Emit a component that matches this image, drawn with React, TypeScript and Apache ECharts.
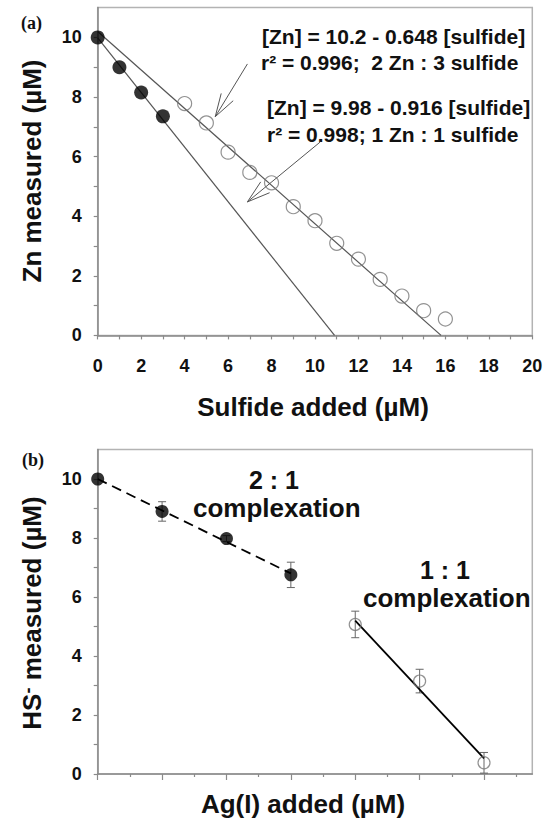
import React, { useEffect, useRef } from "react";
import * as echarts from "echarts";

// ---------- Panel (a) data ----------
const znFilled: number[][] = [[0, 10], [1, 9.0], [2, 8.15], [3, 7.35]];
const znOpen: number[][] = [
  [4, 7.78], [5, 7.13], [6, 6.15], [7, 5.47], [8, 5.12], [9, 4.32], [10, 3.85],
  [11, 3.09], [12, 2.56], [13, 1.88], [14, 1.32], [15, 0.83], [16, 0.55],
];
const fitLine23: number[][] = [[0, 10.2], [15.8, 0]];
const fitLine11: number[][] = [[0, 9.98], [10.9, 0]];
// arrows: [fromX, fromY, toX, toY]
const arrowsA: number[][] = [[6.89, 9.11, 5.41, 7.34], [10.24, 6.49, 6.89, 4.48]];
const xTicksA = [0, 2, 4, 6, 8, 10, 12, 14, 16, 18, 20];
const xMinorA = [0, 1, 2, 3, 4, 5, 6, 7, 8, 9, 10, 11, 12, 13, 14, 15, 16, 17, 18, 19, 20];
const yTicks = [0, 2, 4, 6, 8, 10];
const yMinor = [0, 1, 2, 3, 4, 5, 6, 7, 8, 9, 10];

// ---------- Panel (b) data ----------
const hsFilled: number[][] = [[0, 10], [1, 8.9], [2, 7.98], [3, 6.75]];
const hsFilledErr = [0, 0.33, 0.1, 0.43];
const hsOpen: number[][] = [[4, 5.07], [5, 3.15], [6, 0.38]];
const hsOpenErr = [0.45, 0.4, 0.35];
const dashFit: number[][] = [[0, 10], [3, 6.8]];
const solidFit: number[][] = [[4, 5.2], [6, 0.53]];
const xMajorB = [0, 1, 2, 3, 4, 5, 6];
const xMinorB = [0.5, 1.5, 2.5, 3.5, 4.5, 5.5, 6.5];

const FONT = '"Liberation Sans", Arial, Helvetica, sans-serif';
const AXIS_COLOR = "#8a8a8a";

function errRender(params: any, api: any) {
  const x = api.value(0);
  const y = api.value(1);
  const e = api.value(2);
  if (!e) return null;
  const top = api.coord([x, y + e]);
  const bot = api.coord([x, y - e]);
  const w = 4;
  return {
    type: "group",
    children: [
      { type: "line", shape: { x1: top[0], y1: top[1], x2: bot[0], y2: bot[1] }, style: { stroke: "#666", lineWidth: 1 } },
      { type: "line", shape: { x1: top[0] - w, y1: top[1], x2: top[0] + w, y2: top[1] }, style: { stroke: "#666", lineWidth: 1 } },
      { type: "line", shape: { x1: bot[0] - w, y1: bot[1], x2: bot[0] + w, y2: bot[1] }, style: { stroke: "#666", lineWidth: 1 } },
    ],
  };
}

function arrowRender(params: any, api: any) {
  const p0 = api.coord([api.value(0), api.value(1)]);
  const p1 = api.coord([api.value(2), api.value(3)]);
  const ang = Math.atan2(p0[1] - p1[1], p0[0] - p1[0]);
  const L = 24;
  const a = (17 * Math.PI) / 180;
  const h1 = [p1[0] + L * Math.cos(ang + a), p1[1] + L * Math.sin(ang + a)];
  const h2 = [p1[0] + L * Math.cos(ang - a), p1[1] + L * Math.sin(ang - a)];
  return {
    type: "group",
    children: [
      { type: "line", shape: { x1: p0[0], y1: p0[1], x2: p1[0], y2: p1[1] }, style: { stroke: "#555", lineWidth: 1 } },
      { type: "polyline", shape: { points: [h1, p1, h2] }, style: { stroke: "#555", fill: null, lineWidth: 1 } },
    ],
  };
}

function txt(text: string, x: number, y: number, size: number, align = "left", extra: any = {}) {
  return {
    type: "text",
    x,
    y,
    ...extra,
    style: {
      text,
      fill: "#111",
      font: `bold ${size}px ${FONT}`,
      align,
      verticalAlign: "middle",
      ...(extra.style || {}),
    },
  };
}

export default function App() {
  const ref = useRef<HTMLDivElement>(null);
  useEffect(() => {
    if (!ref.current) return;
    const chart = echarts.init(ref.current, null, { renderer: "svg" });
    const labelStyle = { color: "#111", fontSize: 18, fontWeight: "bold", fontFamily: FONT };
    const axisLine = { show: true, lineStyle: { color: AXIS_COLOR, width: 1.5 } };
    chart.setOption({
      animation: false,
      backgroundColor: "#fff",
      grid: [
        { left: 97.7, top: 7.6, width: 434.6, height: 327.8, show: true, borderColor: "#b3b3b3", borderWidth: 1.5, backgroundColor: "transparent" },
        { left: 97.7, top: 449.5, width: 434.6, height: 324.5, show: true, borderColor: "#b3b3b3", borderWidth: 1.5, backgroundColor: "transparent" },
      ],
      xAxis: [
        {
          gridIndex: 0, type: "value", min: 0, max: 20, interval: 2,
          axisLine,
          axisTick: { show: true, length: 4, customValues: xMinorA, lineStyle: { color: AXIS_COLOR, width: 1.2 } },
          axisLabel: { ...labelStyle, margin: 22, customValues: xTicksA },
          splitLine: { show: false },
        },
        {
          gridIndex: 1, type: "value", min: 0, max: 6.75, interval: 1,
          axisLine,
          axisTick: { show: true, length: 6, customValues: xMajorB, lineStyle: { color: AXIS_COLOR, width: 1.2 } },
          axisLabel: { show: false },
          splitLine: { show: false },
        },
        {
          gridIndex: 1, type: "value", min: 0, max: 6.75, position: "bottom", offset: 0,
          axisLine: { show: false },
          axisTick: { show: true, length: 3, customValues: xMinorB, lineStyle: { color: AXIS_COLOR, width: 1.2 } },
          axisLabel: { show: false },
          splitLine: { show: false },
        },
      ],
      yAxis: [
        {
          gridIndex: 0, type: "value", min: 0, max: 11, interval: 1,
          axisLine,
          axisTick: { show: true, length: 4, customValues: yMinor, lineStyle: { color: AXIS_COLOR, width: 1.2 } },
          axisLabel: { ...labelStyle, margin: 16, customValues: yTicks },
          splitLine: { show: false },
        },
        {
          gridIndex: 1, type: "value", min: 0, max: 11, interval: 1,
          axisLine,
          axisTick: { show: true, length: 4, customValues: yMinor, lineStyle: { color: AXIS_COLOR, width: 1.2 } },
          axisLabel: { ...labelStyle, margin: 16, customValues: yTicks },
          splitLine: { show: false },
        },
      ],
      series: [
        // Panel (a)
        { type: "line", xAxisIndex: 0, yAxisIndex: 0, data: fitLine23, symbol: "none", lineStyle: { color: "#555", width: 1.2 }, z: 2 },
        { type: "line", xAxisIndex: 0, yAxisIndex: 0, data: fitLine11, symbol: "none", lineStyle: { color: "#555", width: 1.2 }, z: 2 },
        {
          type: "scatter", xAxisIndex: 0, yAxisIndex: 0, data: znOpen, symbol: "circle", symbolSize: 14,
          itemStyle: { color: "transparent", borderColor: "#777", borderWidth: 1.2 }, z: 3,
        },
        { type: "scatter", xAxisIndex: 0, yAxisIndex: 0, data: znFilled, symbol: "circle", symbolSize: 14, itemStyle: { color: "#000" }, z: 4 },
        {
          type: "custom", xAxisIndex: 0, yAxisIndex: 0, data: arrowsA, renderItem: arrowRender, clip: false,
          encode: { x: [0, 2], y: [1, 3] }, z: 5, silent: true,
        },
        // Panel (b)
        {
          type: "custom", xAxisIndex: 1, yAxisIndex: 1, renderItem: errRender, clip: false,
          data: hsFilled.map((p, i) => [p[0], p[1], hsFilledErr[i]]),
          encode: { x: 0, y: 1 }, z: 2,
        },
        {
          type: "custom", xAxisIndex: 1, yAxisIndex: 1, renderItem: errRender, clip: false,
          data: hsOpen.map((p, i) => [p[0], p[1], hsOpenErr[i]]),
          encode: { x: 0, y: 1 }, z: 2,
        },
        { type: "line", xAxisIndex: 1, yAxisIndex: 1, data: dashFit, symbol: "none", lineStyle: { color: "#000", width: 1.8, type: [10, 6] }, z: 3 },
        { type: "line", xAxisIndex: 1, yAxisIndex: 1, data: solidFit, symbol: "none", lineStyle: { color: "#000", width: 1.8 }, z: 3 },
        {
          type: "scatter", xAxisIndex: 1, yAxisIndex: 1, data: hsOpen, symbol: "circle", symbolSize: 12,
          itemStyle: { color: "transparent", borderColor: "#777", borderWidth: 1.2 }, z: 4,
        },
        { type: "scatter", xAxisIndex: 1, yAxisIndex: 1, data: hsFilled, symbol: "circle", symbolSize: 13, itemStyle: { color: "#000" }, z: 5 },
      ],
      graphic: [
        {
          type: "text", x: 21, y: 23,
          style: { text: "(a)", fill: "#111", font: 'bold 18px "Liberation Serif", "Times New Roman", serif', align: "left", verticalAlign: "middle" },
        },
        {
          type: "text", x: 22, y: 460,
          style: { text: "(b)", fill: "#111", font: 'bold 18px "Liberation Serif", "Times New Roman", serif', align: "left", verticalAlign: "middle" },
        },
        txt("[Zn] = 10.2 - 0.648 [sulfide]", 262, 36, 21),
        txt("r² = 0.996;  2 Zn : 3 sulfide", 261, 62, 21),
        txt("[Zn] = 9.98 - 0.916 [sulfide]", 267, 107, 21),
        txt("r² = 0.998; 1 Zn : 1 sulfide", 267, 134, 21),
        txt("Zn measured (µM)", 32, 171, 26, "center", { rotation: Math.PI / 2 }),
        txt("Sulfide added (µM)", 313, 407, 26, "center"),
        txt("2 : 1", 274, 480, 25, "center"),
        txt("complexation", 193, 508, 26, "left"),
        txt("1 : 1", 445, 570, 25, "center"),
        txt("complexation", 363, 598, 26, "left"),
        {
          type: "text", x: 32, y: 613, rotation: Math.PI / 2,
          style: {
            text: "{a|HS}{s|-}{a| measured (µM)}",
            fill: "#111",
            align: "center",
            verticalAlign: "middle",
            rich: {
              a: { font: `bold 26px ${FONT}`, fill: "#111" },
              s: { font: `bold 18px ${FONT}`, fill: "#111", verticalAlign: "top" },
            },
          },
        },
        txt("Ag(I) added (µM)", 303, 804, 26, "center"),
      ],
    });
    return () => chart.dispose();
  }, []);
  return <div ref={ref} style={{ position: "absolute", left: 0, top: 0, width: 551, height: 819 }} />;
}
